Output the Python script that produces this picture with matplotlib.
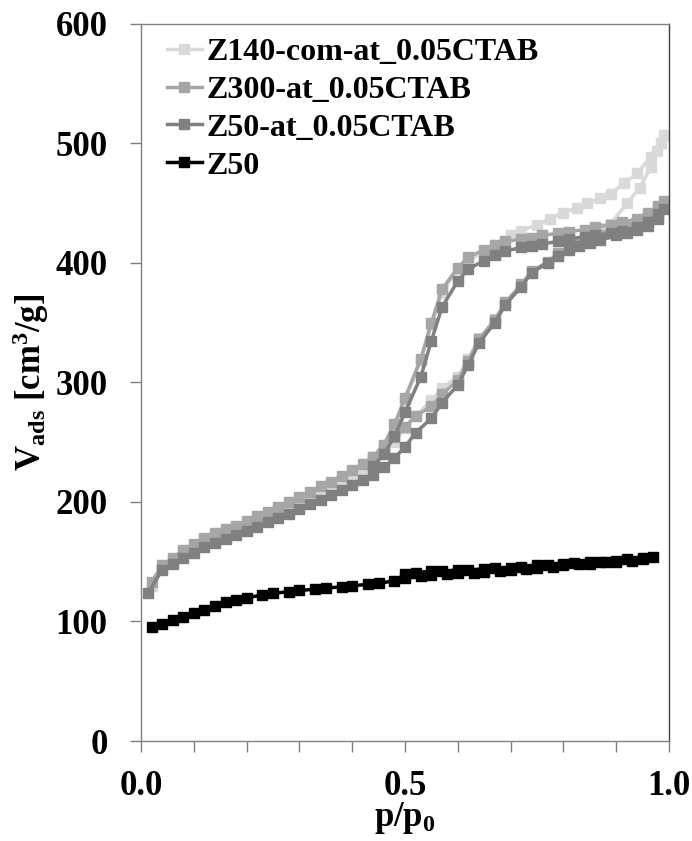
import matplotlib.pyplot as plt
from matplotlib.ticker import MultipleLocator

plt.rcParams['font.family'] = ['Liberation Serif', 'DejaVu Serif']
plt.rcParams['font.weight'] = 'bold'
plt.rcParams['mathtext.fontset'] = 'custom'
plt.rcParams['mathtext.rm'] = 'Liberation Serif:bold'
plt.rcParams['mathtext.bf'] = 'Liberation Serif:bold'
plt.rcParams['mathtext.it'] = 'Liberation Serif:bold'
plt.rcParams['mathtext.default'] = 'bf'

# Z140-com-at_0.05CTAB (adsorption then desorption)
z140_x = [0.02, 0.04, 0.06, 0.08, 0.10, 0.12, 0.14, 0.16, 0.18, 0.20, 0.22, 0.24, 0.26, 0.28,
          0.30, 0.32, 0.34, 0.36, 0.38, 0.40, 0.42, 0.44, 0.46, 0.48, 0.50, 0.52, 0.55, 0.57,
          0.60, 0.62, 0.64, 0.67, 0.69, 0.72, 0.74, 0.77, 0.79, 0.81, 0.83, 0.85, 0.87, 0.89,
          0.92, 0.945, 0.965, 0.977, 0.99,
          0.985, 0.965, 0.94, 0.915, 0.89, 0.87, 0.845, 0.825, 0.80, 0.775, 0.75, 0.72, 0.70,
          0.67, 0.65, 0.62, 0.60, 0.57, 0.55, 0.53, 0.50, 0.48, 0.46, 0.44]
z140_y = [130, 145, 151, 158, 163, 168, 172, 175, 178, 182, 186, 190, 194, 197,
          201, 205, 209, 213, 218, 223, 228, 234, 241, 250, 262, 272, 285, 295,
          305, 320, 337, 353, 367, 381, 392, 400, 407, 412, 418, 424, 429, 433,
          450, 463, 480, 494, 507,
          500, 489, 475, 467, 458, 454, 450, 446, 442, 437, 432, 427, 423,
          415, 410, 402, 395, 375, 348, 318, 285, 262, 247, 237]

# Z300-at_0.05CTAB
z300_x = [0.02, 0.04, 0.06, 0.08, 0.10, 0.12, 0.14, 0.16, 0.18, 0.20, 0.22, 0.24, 0.26, 0.28,
          0.30, 0.32, 0.34, 0.36, 0.38, 0.40, 0.42, 0.44, 0.46, 0.48, 0.50, 0.52, 0.55, 0.57,
          0.60, 0.62, 0.64, 0.67, 0.69, 0.72, 0.74, 0.77, 0.79, 0.81, 0.83, 0.85, 0.87, 0.90,
          0.92, 0.94, 0.96, 0.98, 0.99,
          0.98, 0.96, 0.94, 0.91, 0.89, 0.86, 0.84, 0.81, 0.79, 0.76, 0.74, 0.72, 0.69, 0.67,
          0.65, 0.62, 0.60, 0.57, 0.55, 0.53, 0.50, 0.48, 0.46, 0.44]
z300_y = [133, 147, 153, 160, 165, 170, 174, 177, 180, 184, 188, 192, 196, 200,
          204, 208, 213, 217, 222, 227, 232, 238, 245, 254, 263, 272, 280, 290,
          302, 318, 336, 352, 367, 382, 393, 401, 408, 413, 417, 420, 423, 427,
          430, 434, 438, 446, 452,
          448, 442, 437, 434, 432, 430, 428, 426, 425, 423, 421, 420, 418, 415,
          411, 405, 396, 378, 350, 320, 287, 265, 248, 238]

# Z50-at_0.05CTAB
z50at_x = [0.013, 0.04, 0.06, 0.08, 0.10, 0.12, 0.14, 0.16, 0.18, 0.20, 0.22, 0.24, 0.26, 0.28,
           0.30, 0.32, 0.34, 0.36, 0.38, 0.40, 0.42, 0.44, 0.46, 0.48, 0.50, 0.52, 0.55, 0.57,
           0.60, 0.62, 0.64, 0.67, 0.69, 0.72, 0.74, 0.77, 0.79, 0.81, 0.83, 0.85, 0.87, 0.90,
           0.92, 0.94, 0.96, 0.98, 0.99,
           0.98, 0.96, 0.94, 0.91, 0.89, 0.86, 0.84, 0.81, 0.79, 0.76, 0.74, 0.72, 0.69, 0.67,
           0.65, 0.62, 0.60, 0.57, 0.55, 0.53, 0.50, 0.48, 0.46, 0.44]
z50at_y = [124, 143, 148, 153, 157, 162, 166, 169, 172, 176, 179, 183, 187, 190,
           194, 198, 202, 206, 210, 214, 218, 223, 229, 237, 246, 258, 270, 283,
           298, 315, 333, 350, 365, 380, 392, 400, 406, 411, 414, 417, 419, 423,
           425, 428, 431, 437, 445,
           441, 434, 430, 427, 425, 423, 422, 420, 418, 416, 414, 413, 410, 407,
           402, 395, 385, 363, 335, 305, 275, 255, 240, 230]

# Z50
z50_x = [0.02, 0.04, 0.06, 0.08, 0.10, 0.12, 0.14, 0.16, 0.18, 0.20, 0.23, 0.25, 0.28, 0.30,
         0.33, 0.35, 0.38, 0.40, 0.43, 0.45, 0.48, 0.50, 0.53, 0.55, 0.58, 0.60, 0.63, 0.65,
         0.68, 0.70, 0.73, 0.75, 0.78, 0.80, 0.83, 0.85, 0.88, 0.90, 0.93, 0.95, 0.97,
         0.95, 0.92, 0.90, 0.87, 0.85, 0.82, 0.80, 0.77, 0.75, 0.72, 0.70, 0.67, 0.65, 0.62,
         0.60, 0.57, 0.55, 0.52, 0.50]
z50_y = [95, 98, 101, 104, 107, 110, 113, 116, 118, 120, 122, 123.5, 125, 126,
         127, 128, 129, 130, 131, 132, 134, 136, 138, 139, 140, 140.5, 141, 141.5,
         142.5, 143, 144, 145, 146, 147, 148, 148.5, 149.5, 150, 151, 152, 154,
         153, 152, 151, 150, 150, 149, 148, 147, 147, 146, 145, 144.5, 144, 143,
         143, 142, 142, 141, 140]

series = [
    (z140_x, z140_y, '#d9d9d9', 'Z140-com-at_0.05CTAB'),
    (z300_x, z300_y, '#a6a6a6', 'Z300-at_0.05CTAB'),
    (z50at_x, z50at_y, '#808080', 'Z50-at_0.05CTAB'),
    (z50_x, z50_y, '#000000', 'Z50'),
]

fig = plt.figure(figsize=(6.92, 8.41), dpi=100)
ax = fig.add_axes([0.2038, 0.1189, 0.763, 0.8526])

for x, y, c, lab in series:
    ax.plot(x, y, '-s', color=c, lw=2.5, ms=6.5, label=lab)

ax.set_xlim(0, 1)
ax.set_ylim(0, 600)
ax.xaxis.set_major_locator(MultipleLocator(0.5))
ax.xaxis.set_minor_locator(MultipleLocator(0.1))
ax.yaxis.set_major_locator(MultipleLocator(100))
ax.xaxis.set_major_formatter(plt.FuncFormatter(lambda v, p: f'{v:.1f}'))
ax.tick_params(axis='both', which='both', direction='out', length=8, width=1,
               color='#808080', labelsize=25)
ax.tick_params(axis='y', which='major', pad=16)
ax.tick_params(axis='x', which='major', pad=13)
for s in ax.spines.values():
    s.set_color('#808080')
    s.set_linewidth(1)
ax.spines['right'].set_color('#404040')

ax.set_xlabel('p/p$_0$', fontsize=25, fontweight='bold', labelpad=-2)
ax.set_ylabel('V$_{ads}$ [cm$^3$/g]', fontsize=25, fontweight='bold', labelpad=3)

ax.legend(loc='upper left', bbox_to_anchor=(0.0, 1.017), frameon=False,
          handlelength=1.1, handletextpad=0.15, labelspacing=0.27, borderpad=0.3,
          prop={'weight': 'bold', 'size': 23})

fig.savefig('out.png', dpi=100)
